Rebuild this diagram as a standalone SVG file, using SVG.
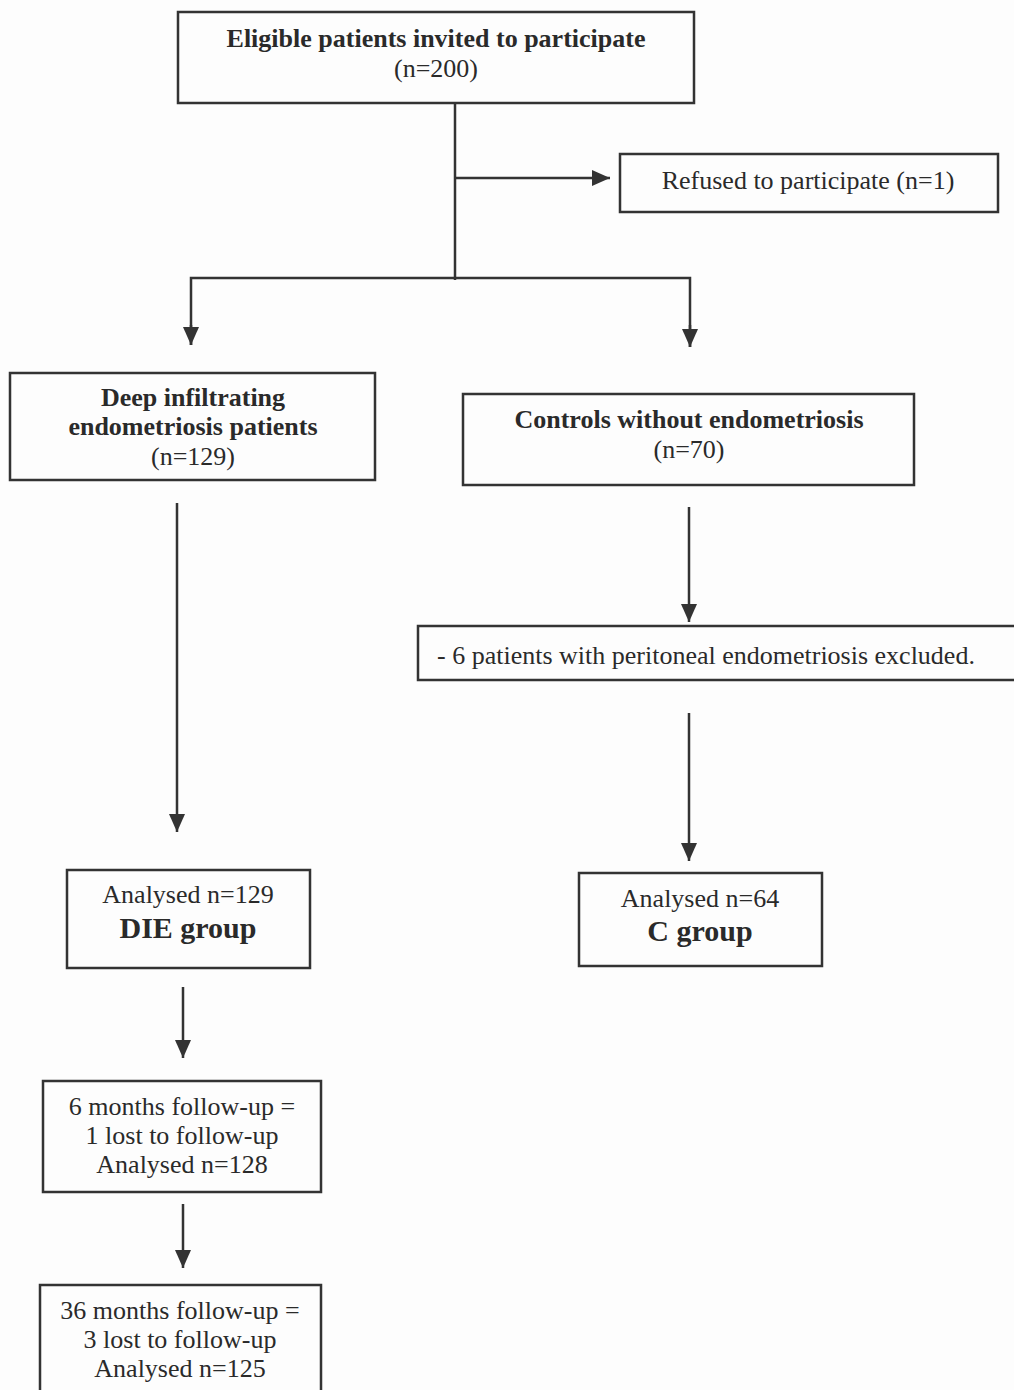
<svg xmlns="http://www.w3.org/2000/svg" width="1014" height="1390" viewBox="0 0 1014 1390">
<style>
.box{fill:none;stroke:#333;stroke-width:2.5}
.ln{fill:none;stroke:#333;stroke-width:2.5}
text{font-family:"Liberation Serif","DejaVu Serif",serif;font-size:26px;fill:#2a2a2a;text-anchor:middle}
.b{font-weight:bold}
.big{font-weight:bold;font-size:30px}
</style>
<defs>
<marker id="a" viewBox="0 0 18 16" refX="18" refY="8" markerWidth="18" markerHeight="16" markerUnits="userSpaceOnUse" orient="auto">
<path d="M0,0 L18,8 L0,16 Z" fill="#333"/>
</marker>
</defs>
<rect width="1014" height="1390" fill="#fdfdfd"/>
<g id="connectors">
<line class="ln" x1="455" y1="103" x2="455" y2="280"/>
<line class="ln" x1="455" y1="178" x2="610" y2="178" marker-end="url(#a)"/>
<polyline class="ln" points="191,345 191,278 690,278 690,347"/>
<line class="ln" x1="191" y1="325" x2="191" y2="345" marker-end="url(#a)"/>
<line class="ln" x1="690" y1="325" x2="690" y2="347" marker-end="url(#a)"/>
<line class="ln" x1="177" y1="503" x2="177" y2="832" marker-end="url(#a)"/>
<line class="ln" x1="689" y1="507" x2="689" y2="622" marker-end="url(#a)"/>
<line class="ln" x1="689" y1="713" x2="689" y2="861" marker-end="url(#a)"/>
<line class="ln" x1="183" y1="987" x2="183" y2="1058" marker-end="url(#a)"/>
<line class="ln" x1="183" y1="1204" x2="183" y2="1268" marker-end="url(#a)"/>
</g>
<g id="eligible">
<rect class="box" x="178" y="12" width="516" height="91"/>
<text class="b" x="436" y="47">Eligible patients invited to participate</text>
<text x="436" y="77">(n=200)</text>
</g>
<g id="refused">
<rect class="box" x="620" y="154" width="378" height="58"/>
<text x="808" y="189">Refused to participate (n=1)</text>
</g>
<g id="die">
<rect class="box" x="10" y="373" width="365" height="107"/>
<text class="b" x="193" y="406">Deep infiltrating</text>
<text class="b" x="193" y="435">endometriosis patients</text>
<text x="193" y="465">(n=129)</text>
</g>
<g id="controls">
<rect class="box" x="463" y="394" width="451" height="91"/>
<text class="b" x="689" y="428">Controls without endometriosis</text>
<text x="689" y="458">(n=70)</text>
</g>
<g id="excluded">
<path class="box" d="M1016,626 L418,626 L418,680 L1016,680"/>
<text x="437" y="664" style="text-anchor:start">- 6 patients with peritoneal endometriosis excluded.</text>
</g>
<g id="die-group">
<rect class="box" x="67" y="870" width="243" height="98"/>
<text x="188" y="903">Analysed n=129</text>
<text class="big" x="188" y="938">DIE group</text>
</g>
<g id="c-group">
<rect class="box" x="579" y="873" width="243" height="93"/>
<text x="700" y="907">Analysed n=64</text>
<text class="big" x="700" y="941">C group</text>
</g>
<g id="six-months">
<rect class="box" x="43" y="1081" width="278" height="111"/>
<text x="182" y="1115">6 months follow-up =</text>
<text x="182" y="1144">1 lost to follow-up</text>
<text x="182" y="1173">Analysed n=128</text>
</g>
<g id="thirtysix-months">
<path class="box" d="M40,1392 L40,1285 L321,1285 L321,1392"/>
<text x="180" y="1319">36 months follow-up =</text>
<text x="180" y="1348">3 lost to follow-up</text>
<text x="180" y="1377">Analysed n=125</text>
</g>
</svg>
